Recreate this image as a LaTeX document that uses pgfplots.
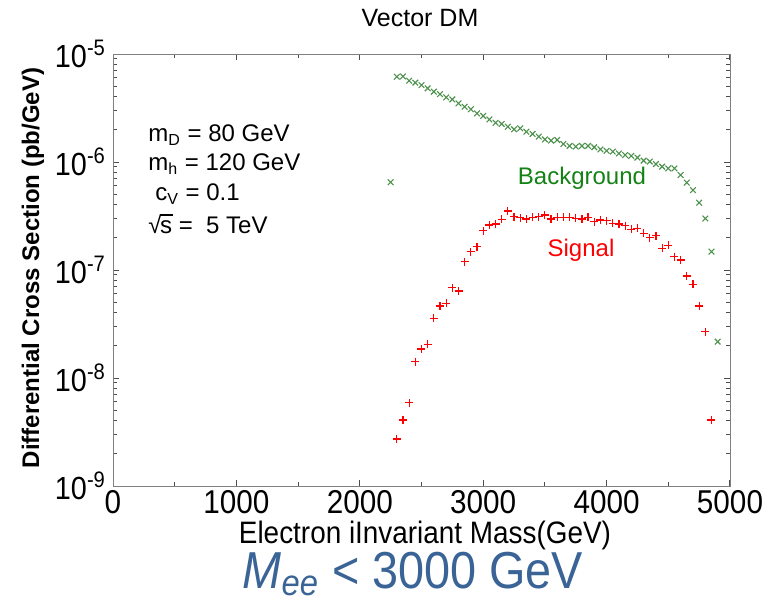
\documentclass[border=0pt]{standalone}
\usepackage{pgfplots}
\pgfplotsset{compat=1.18}
\usepackage{fontspec}
\setmainfont{Liberation Sans}
\newfontfamily\condfont{Liberation Sans}[FakeStretch=0.9]
\definecolor{bggreen}{RGB}{75,145,75}
\definecolor{bgtext}{RGB}{20,130,20}
\definecolor{meeblue}{RGB}{58,100,150}
\begin{document}
\begin{tikzpicture}
\useasboundingbox (-56.5pt,-59pt) rectangle (329pt,243pt);
\begin{axis}[
  scale only axis, width=308.5pt, height=216pt,
  xmin=0, xmax=5000, ymode=log, ymin=1e-9, ymax=1e-5,
  xtick={0,1000,2000,3000,4000,5000},
  xticklabels={0,1000,2000,3000,4000,5000},
  minor xtick={500,1500,2500,3500,4500},
  ytick={1e-9,1e-8,1e-7,1e-6,1e-5},
  yticklabels={10\textsuperscript{-9},10\textsuperscript{-8},10\textsuperscript{-7},10\textsuperscript{-6},10\textsuperscript{-5}},
  xticklabel style={font=\condfont\fontsize{16.5}{17}\selectfont, yshift=1.5pt},
  yticklabel style={font=\condfont\fontsize{16}{18}\selectfont},
  axis line style={gray},
  tick style={gray!60!black, line width=0.5pt},
  major tick length=3pt, minor tick length=2pt,
]
\addplot[only marks, mark=x, mark size=2pt, color=bggreen, mark options={bggreen, line width=0.55pt}] table {
2250 6.5e-7
2300 6.16e-6
2350 6.2e-6
2400 5.66e-6
2450 5.43e-6
2500 5.16e-6
2550 4.81e-6
2600 4.48e-6
2650 4.26e-6
2700 3.97e-6
2750 3.80e-6
2800 3.49e-6
2850 3.25e-6
2900 3.08e-6
2950 2.82e-6
3000 2.67e-6
3050 2.48e-6
3100 2.31e-6
3150 2.25e-6
3200 2.12e-6
3250 2.01e-6
3300 2.05e-6
3350 1.91e-6
3400 1.82e-6
3450 1.72e-6
3500 1.62e-6
3550 1.58e-6
3600 1.60e-6
3650 1.47e-6
3700 1.41e-6
3750 1.39e-6
3800 1.41e-6
3850 1.41e-6
3900 1.37e-6
3950 1.31e-6
4000 1.27e-6
4050 1.25e-6
4100 1.20e-6
4150 1.16e-6
4200 1.14e-6
4250 1.10e-6
4300 1.03e-6
4350 1.01e-6
4400 9.58e-7
4450 9.06e-7
4500 8.73e-7
4550 8.73e-7
4600 7.58e-7
4650 6.44e-7
4700 5.5e-7
4750 4.2e-7
4800 3.0e-7
4850 1.48e-7
4900 2.17e-8
};
\addplot[only marks, mark=+, mark size=2pt, color=red, mark options={red, line width=0.6pt}] table {
2300 2.72e-9
2350 4.08e-9
2400 5.9e-9
2450 1.42e-8
2500 1.86e-8
2550 2.06e-8
2600 3.56e-8
2650 4.64e-8
2700 4.91e-8
2750 6.86e-8
2800 6.4e-8
2850 1.19e-7
2900 1.48e-7
2950 1.64e-7
3000 2.31e-7
3050 2.61e-7
3100 2.67e-7
3150 2.95e-7
3200 3.52e-7
3250 3.12e-7
3300 3.05e-7
3350 2.97e-7
3400 3.07e-7
3450 3.12e-7
3500 3.23e-7
3550 2.97e-7
3600 3.07e-7
3650 3.07e-7
3700 3.07e-7
3750 3.01e-7
3800 2.97e-7
3850 3.07e-7
3900 2.80e-7
3950 2.90e-7
4000 2.86e-7
4050 2.71e-7
4100 2.67e-7
4150 2.58e-7
4200 2.38e-7
4250 2.43e-7
4300 2.19e-7
4350 1.99e-7
4400 2.07e-7
4450 1.59e-7
4500 1.70e-7
4550 1.33e-7
4600 1.24e-7
4650 8.8e-8
4700 7.36e-8
4750 4.64e-8
4800 2.69e-8
4850 4.08e-9
};
\end{axis}
\begin{scope}[shift={(-56.5pt,243pt)}, x=0.5pt, y=-0.5pt]
\node[font=\fontsize{12.5}{14}\selectfont] at (420,18) {Vector DM};
\node[font=\bfseries\fontsize{12}{14}\selectfont, rotate=90] at (33,268) {Differential Cross Section (pb/GeV)};
\node[font=\condfont\fontsize{15.5}{16}\selectfont] at (425,535) {Electron iInvariant Mass(GeV)};
\node[font=\condfont\fontsize{26}{28}\selectfont, text=meeblue] at (413,574) {\textit{M}\textsubscript{\textit{ee}} < 3000 GeV};
\node[anchor=west, font=\fontsize{12}{14}\selectfont, inner sep=0pt] at (148,135) {m\textsubscript{D} = 80 GeV};
\node[anchor=west, font=\fontsize{12}{14}\selectfont, inner sep=0pt] at (148,164) {m\textsubscript{h} = 120 GeV};
\node[anchor=west, font=\fontsize{12}{14}\selectfont, inner sep=0pt] at (155,194) {c\textsubscript{V} = 0.1};
\node[anchor=west, font=\fontsize{12}{14}\selectfont, inner sep=0pt] at (148,224) {√\kern-0.06em\rlap{\rule[0.74em]{0.52em}{0.06em}}s = \ 5 TeV};
\node[font=\fontsize{12}{14}\selectfont, text=bgtext] at (582,178) {Background};
\node[font=\fontsize{12}{14}\selectfont, text=red] at (581,250) {Signal};
\end{scope}
\end{tikzpicture}
\end{document}
